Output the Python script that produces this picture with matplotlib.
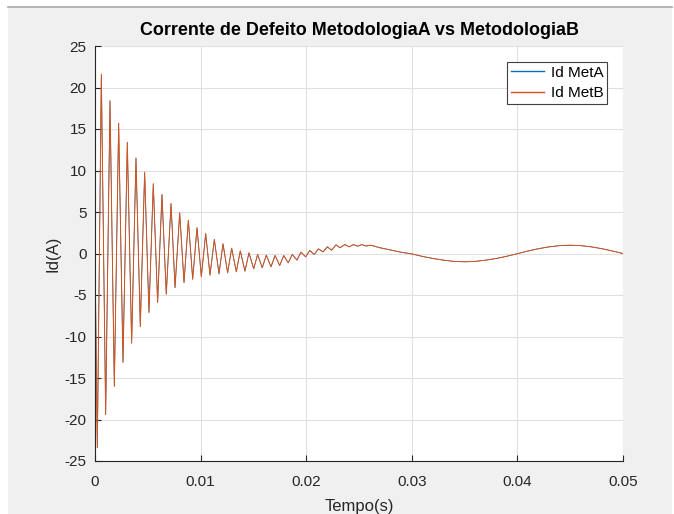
import matplotlib
matplotlib.use('Agg')
import matplotlib.pyplot as plt
from matplotlib.patches import Rectangle
from matplotlib.lines import Line2D

# ====================================
# DADOS
# ====================================

# tempos dos picos/vales da oscilação rápida + componente lenta
tempo = [0.0, 0.00022, 0.0006, 0.00101, 0.00142, 0.00183, 0.00224, 0.00265,
         0.00306, 0.00347, 0.00388, 0.00429, 0.0047, 0.00511, 0.00552, 0.00593,
         0.00634, 0.00675, 0.0072, 0.00758, 0.00802, 0.00843, 0.00884, 0.00925,
         0.00966, 0.01007, 0.01048, 0.01089, 0.0113, 0.01174, 0.01212, 0.01256,
         0.01294, 0.01338, 0.01376, 0.0142, 0.01458, 0.01503, 0.0154, 0.01584,
         0.01622, 0.01667, 0.01705, 0.01749, 0.01787, 0.0183, 0.01868, 0.01913,
         0.0195, 0.01995, 0.02033, 0.02077, 0.02115, 0.02159, 0.022, 0.02241,
         0.02282, 0.0232, 0.02367, 0.02408, 0.02446, 0.02488, 0.02525, 0.02566,
         0.02611, 0.027, 0.028, 0.029, 0.030, 0.031, 0.032, 0.033, 0.034, 0.035,
         0.036, 0.037, 0.038, 0.039, 0.040, 0.041, 0.042, 0.043, 0.044, 0.045,
         0.046, 0.047, 0.048, 0.049, 0.050]

id_met_a = [0.0, -23.4, 21.6, -19.4, 18.4, -16.0, 15.7, -13.1,
            13.4, -10.8, 11.5, -8.8, 9.8, -7.1, 8.4, -5.9,
            7.1, -4.9, 6.0, -4.1, 4.9, -3.5, 4.0, -3.1,
            3.1, -2.8, 2.4, -2.6, 1.7, -2.45, 1.17, -2.33,
            0.64, -2.2, 0.32, -2.13, 0.08, -1.84, -0.12, -1.72,
            -0.2, -1.6, -0.24, -1.45, -0.24, -1.12, -0.12, -0.8,
            0.16, -0.4, 0.36, -0.12, 0.56, 0.2, 0.8, 0.4,
            1.05, 0.69, 1.08, 0.8, 1.08, 0.88, 1.08, 0.9,
            1.0, 0.69, 0.42, 0.15, -0.05, -0.35, -0.6, -0.8, -0.95, -1.0,
            -0.95, -0.8, -0.6, -0.33, -0.02, 0.3, 0.58, 0.8, 0.95, 1.0,
            0.95, 0.8, 0.58, 0.3, 0.0]

id_met_b = list(id_met_a)

x_ticks = [0, 0.01, 0.02, 0.03, 0.04, 0.05]
x_tick_labels = ['0', '0.01', '0.02', '0.03', '0.04', '0.05']
y_ticks = [-25, -20, -15, -10, -5, 0, 5, 10, 15, 20, 25]

# ====================================
# FIGURA
# ====================================

plt.rcParams['font.family'] = ['Liberation Sans', 'DejaVu Sans']
plt.rcParams['axes.unicode_minus'] = False
cor_texto = '#262626'

fig = plt.figure(figsize=(6.74, 5.14), dpi=100, facecolor='white')

# fundo cinza estilo MATLAB
fig.add_artist(Rectangle((8/674, 0), 664/674, 1 - 6/514, transform=fig.transFigure,
                         facecolor='#f0f0f0', edgecolor='none', zorder=-10))
fig.add_artist(Line2D([8/674, 672/674], [1 - 6.5/514, 1 - 6.5/514], transform=fig.transFigure,
                      color='#a8a8a8', lw=1.2, zorder=-9))

ax = fig.add_axes([95/674, 1 - 461/514, 528/674, 415/514])
ax.set_facecolor('white')

ax.plot(tempo, id_met_a, color=(0, 0.447, 0.741), lw=0.5, label='Id MetA')
ax.plot(tempo, id_met_b, color=(0.85, 0.325, 0.098), lw=0.7, label='Id MetB')

ax.set_xlim(0, 0.05)
ax.set_ylim(-25, 25)
ax.set_xticks(x_ticks)
ax.set_xticklabels(x_tick_labels)
ax.set_yticks(y_ticks)

ax.grid(True, color='#e0e0e0', lw=0.8)
ax.set_axisbelow(True)

for s in ['top', 'right']:
    ax.spines[s].set_visible(False)
for s in ['left', 'bottom']:
    ax.spines[s].set_color(cor_texto)
    ax.spines[s].set_linewidth(0.8)

ax.tick_params(direction='in', length=4, width=0.8, colors=cor_texto, labelsize=11)
ax.tick_params(axis='y', pad=6)
ax.tick_params(axis='x', pad=10)

ax.set_xlabel('Tempo(s)', fontsize=12, color=cor_texto, labelpad=7)
ax.set_ylabel('Id(A)', fontsize=12, color=cor_texto, labelpad=3)
ax.set_title('Corrente de Defeito MetodologiaA vs MetodologiaB',
             fontsize=12.9, fontweight='bold', color='black', pad=8)

leg = ax.legend(loc='upper right', bbox_to_anchor=(607/674, 1 - 62/514),
                bbox_transform=fig.transFigure, fontsize=11, frameon=True,
                fancybox=False, edgecolor='#404040', framealpha=1,
                handlelength=2.2, handletextpad=0.4, borderpad=0.25,
                labelspacing=0.4, borderaxespad=0)
leg.get_frame().set_linewidth(0.8)
for h in leg.get_lines():
    h.set_linewidth(1.0)

plt.savefig('out.png', dpi=100, facecolor=fig.get_facecolor())
